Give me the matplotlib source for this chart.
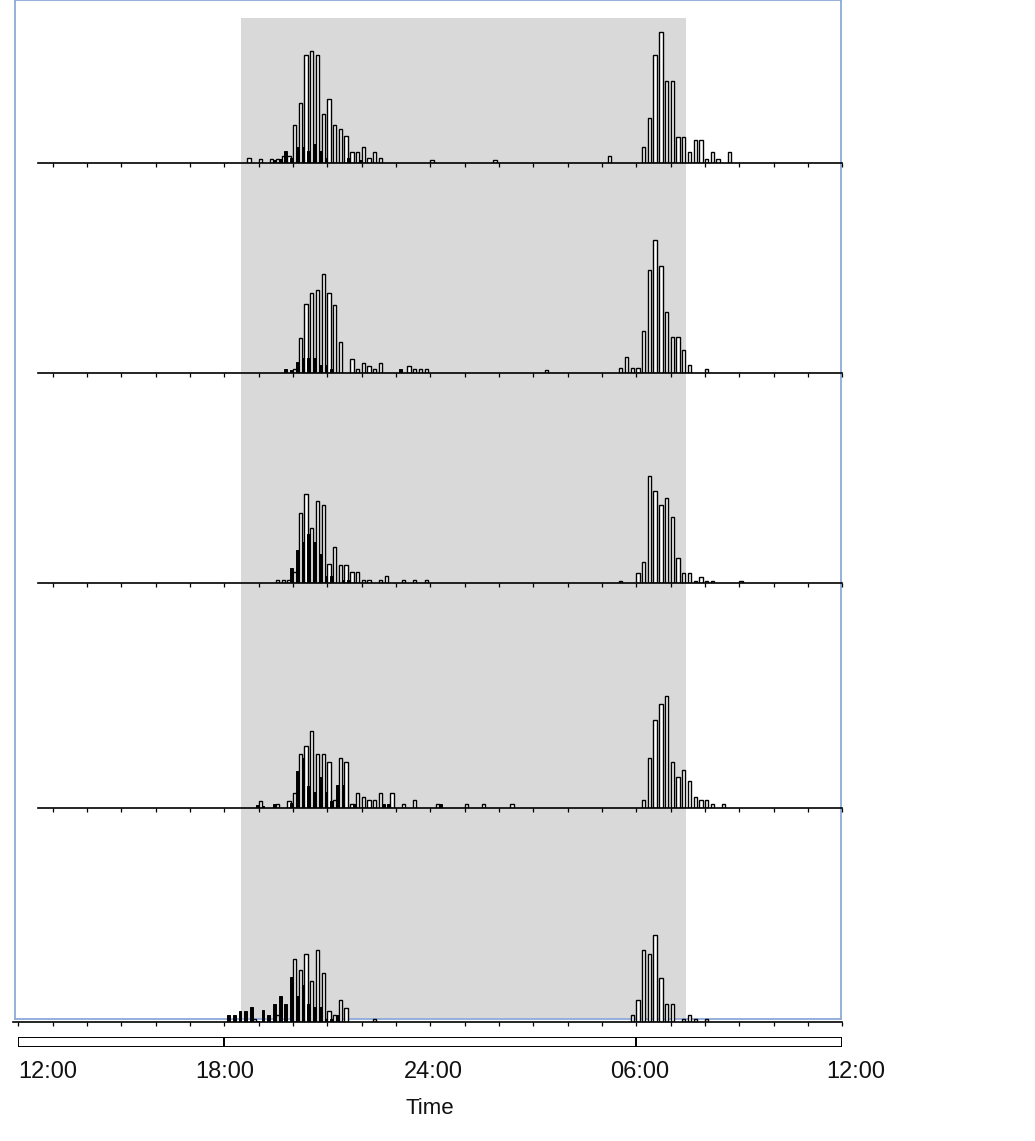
import matplotlib
matplotlib.use("Agg")
import matplotlib.pyplot as plt

plt.rcParams['font.family'] = ['Liberation Sans', 'DejaVu Sans']

# 10-minute bins counted from 12:00 (bin 36 = 18:00, bin 72 = 24:00, bin 108 = 06:00)
# value = activity count in that bin, open bars and filled bars
p1_white = {40: 5, 42: 4, 44: 4, 45: 4, 46: 7, 47: 7, 48: 38, 49: 60, 50: 108, 51: 112,
            52: 108, 53: 49, 54: 64, 55: 38, 56: 34, 57: 27, 58: 11, 59: 11, 60: 16,
            61: 5, 62: 11, 63: 5, 72: 3, 83: 3, 103: 7, 109: 16, 110: 45, 111: 108,
            112: 131, 113: 82, 114: 82, 115: 26, 116: 26, 117: 11, 118: 23, 119: 23,
            120: 4, 121: 11, 122: 4, 124: 11}
p1_black = {44: 3, 45: 4, 46: 12, 47: 5, 48: 16, 49: 16, 50: 12, 51: 19, 52: 12, 53: 5,
            57: 5, 59: 3}

p2_white = {48: 4, 49: 35, 50: 69, 51: 80, 52: 83, 53: 99, 54: 80, 55: 68, 56: 31,
            58: 14, 59: 4, 60: 10, 61: 7, 62: 4, 63: 10, 68: 7, 69: 4, 70: 4, 71: 4,
            92: 3, 105: 5, 106: 16, 107: 5, 108: 5, 109: 42, 110: 103, 111: 133,
            112: 107, 113: 61, 114: 36, 115: 36, 116: 23, 117: 8, 120: 4}
p2_black = {46: 4, 47: 3, 48: 11, 49: 15, 50: 15, 51: 15, 52: 8, 53: 8, 54: 4, 66: 4}

p3_white = {45: 3, 46: 3, 47: 3, 48: 11, 49: 70, 50: 89, 51: 55, 52: 82, 53: 78, 54: 19,
            55: 36, 56: 18, 57: 18, 58: 11, 59: 11, 60: 3, 61: 3, 63: 3, 64: 7, 67: 3,
            69: 3, 71: 3, 105: 2, 108: 10, 109: 21, 110: 107, 111: 92, 112: 78, 113: 85,
            114: 66, 115: 25, 116: 10, 117: 10, 118: 2, 119: 6, 120: 2, 121: 2, 126: 2}
p3_black = {47: 15, 48: 33, 49: 41, 50: 49, 51: 41, 52: 29, 53: 7, 54: 7, 56: 3, 57: 3}

p4_white = {42: 7, 45: 4, 47: 7, 48: 15, 49: 54, 50: 62, 51: 77, 52: 54, 53: 54, 54: 46,
            55: 8, 56: 50, 57: 46, 58: 4, 59: 15, 60: 11, 61: 8, 62: 8, 63: 15, 65: 15,
            67: 4, 69: 8, 73: 4, 78: 4, 81: 4, 86: 4, 109: 8, 110: 50, 111: 88, 112: 104,
            113: 112, 114: 46, 115: 31, 116: 38, 117: 27, 118: 11, 119: 8, 120: 8,
            121: 4, 123: 4}
p4_black = {41: 3, 42: 2, 44: 4, 47: 5, 48: 37, 49: 50, 50: 22, 51: 16, 52: 31, 53: 16,
            54: 7, 55: 23, 56: 23, 58: 4, 63: 4, 64: 4, 73: 4}

p5_white = {41: 3, 45: 7, 48: 63, 49: 52, 50: 68, 51: 41, 52: 72, 53: 49, 54: 11, 55: 7,
            56: 22, 57: 14, 62: 3, 107: 7, 108: 22, 109: 72, 110: 68, 111: 87, 112: 44,
            113: 18, 114: 18, 116: 3, 117: 7, 118: 3, 120: 3}
p5_black = {36: 7, 37: 7, 38: 11, 39: 11, 40: 15, 41: 1, 42: 12, 43: 7, 44: 18, 45: 26,
            46: 18, 47: 45, 48: 26, 49: 37, 50: 18, 51: 15, 52: 15, 53: 3, 54: 3, 55: 7}

panels = [(p1_white, p1_black), (p2_white, p2_black), (p3_white, p3_black),
          (p4_white, p4_black), (p5_white, p5_black)]

# dark period in hours after 12:00 (18:30 -> ~07:27)
dark_start = 6.5
dark_end = 19.45

# light/dark bar segments (hours after 12:00)
bar_edges = [0, 6, 18, 24]
tick_labels = ["12:00", "18:00", "24:00", "06:00", "12:00"]
tick_hours = [0, 6, 12.1, 18.1, 24.4]

# layout in pixels
W, H = 1035, 1141
x0, x1 = 18.3, 842.3
hr = (x1 - x0) / 24
baselines = [163, 373, 583, 807.5, 1021.5]
panel_h = 150


def fx(px):
    return px / W


def fy(py):
    return 1 - py / H


fig = plt.figure(figsize=(W / 100, H / 100), dpi=100)

# gray dark-phase shading + blue frame
bg = fig.add_axes([fx(15), fy(1019), fx(841 - 15), 1019 / H], zorder=0)
bg.set_xlim((15 - x0) / hr, (841 - x0) / hr)
bg.set_ylim(0, 1)
bg.axvspan(dark_start, dark_end, ymin=0, ymax=1 - 18 / 1019, color='#d9d9d9', lw=0)
bg.set_xticks([])
bg.set_yticks([])
for s in bg.spines.values():
    s.set_color('#8eaadb')
    s.set_linewidth(1.3)
bg.patch.set_alpha(0)

binw = 1 / 6
for i, (white, black) in enumerate(panels):
    base = baselines[i]
    ax = fig.add_axes([fx(x0), fy(base), fx(x1 - x0), panel_h / H], zorder=2)
    ax.patch.set_alpha(0)
    ax.set_xlim(0, 24)
    ax.set_ylim(0, panel_h)
    wk = list(white.keys())
    ax.bar([k * binw for k in wk], [white[k] for k in wk], width=0.58 * binw,
           align='edge', color='white', edgecolor='black', linewidth=1.0, zorder=2)
    bk = list(black.keys())
    ax.bar([(k + 0.52) * binw for k in bk], [black[k] for k in bk], width=0.48 * binw,
           align='edge', color='black', edgecolor='black', linewidth=0.7, zorder=3)
    for s in ['top', 'left', 'right']:
        ax.spines[s].set_visible(False)
    ax.spines['bottom'].set_linewidth(1.2)
    ax.set_yticks([])
    if i < 4:
        ax.spines['bottom'].set_bounds(0.57, 24)
        ax.set_xticks(range(1, 25))
    else:
        ax.spines['bottom'].set_bounds(-0.15, 24)
        ax.set_xticks(range(0, 25))
    ax.set_xticklabels([])
    ax.tick_params(axis='x', direction='out', length=3, width=0.9)
    ax.spines['bottom'].set_zorder(4)
    for s in ax.spines.values():
        s.set_clip_on(False)

# light/dark bar
lb = fig.add_axes([fx(x0), fy(1046.5), fx(x1 - x0), 10 / H], zorder=2)
lb.set_xlim(0, 24)
lb.set_ylim(0, 1)
for a, b in zip(bar_edges[:-1], bar_edges[1:]):
    lb.barh(0.5, b - a, left=a, height=1, color='white', edgecolor='black', linewidth=1.4)
lb.axis('off')

for h, lab in zip(tick_hours, tick_labels):
    ha = 'left' if h == 0 else 'center'
    lb.text(h, -2.6, lab, ha=ha, va='center', fontsize=17, color='#111111')
lb.text(12, -6.2, "Time", ha='center', va='center', fontsize=16, color='#111111')

fig.savefig("out.png", dpi=100)
